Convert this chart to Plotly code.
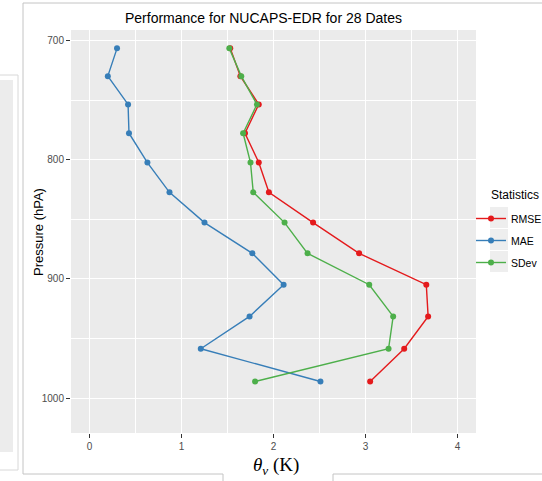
import plotly.graph_objects as go

# ---- data ----
PRESSURE = [706.6, 729.9, 753.6, 777.8, 802.4, 827.4, 852.8, 878.6, 904.9, 931.5, 958.6, 986.1]
RMSE = [1.53, 1.64, 1.84, 1.69, 1.84, 1.95, 2.43, 2.93, 3.66, 3.68, 3.42, 3.05]
MAE = [0.30, 0.20, 0.42, 0.43, 0.63, 0.87, 1.25, 1.77, 2.11, 1.74, 1.21, 2.51]
SDEV = [1.52, 1.65, 1.82, 1.67, 1.75, 1.78, 2.12, 2.37, 3.04, 3.30, 3.25, 1.80]
SERIES = ["RMSE", "MAE", "SDev"]
COLORS = ["#E41A1C", "#377EB8", "#4DAF4A"]
X_TICKS = [0, 1, 2, 3, 4]
Y_TICKS = [700, 800, 900, 1000]
TITLE = "Performance for NUCAPS-EDR for 28 Dates"
LEGEND_TITLE = "Statistics"

# ---- layout geometry (pixels) ----
WIDTH, HEIGHT = 542, 481
L, R, T, B = 71, 476, 30, 433
PW, PH = R - L, B - T


def px(xp):
    return (xp - L) / PW


def py(yp):
    return (B - yp) / PH


fig = go.Figure()
for name, vals, col, rank in zip(SERIES, [RMSE, MAE, SDEV], COLORS, [1, 2, 3]):
    fig.add_trace(go.Scatter(
        x=vals, y=PRESSURE, mode="lines+markers", name=name,
        line=dict(color=col, width=1.4),
        marker=dict(color=col, size=6),
        legendrank=rank, legendgroup=name,
    ))

shapes = []
frame = "#c4c4c4"
# surrounding screenshot clutter
shapes.append(dict(type="rect", xref="paper", yref="paper", x0=px(0), x1=px(13), y0=py(452), y1=py(80),
                   fillcolor="#ececec", line=dict(width=0), layer="below"))
shapes.append(dict(type="line", xref="paper", yref="paper", x0=px(18), x1=px(18), y0=py(470), y1=py(75),
                   line=dict(color="#d8d8d8", width=1)))
shapes.append(dict(type="line", xref="paper", yref="paper", x0=px(0), x1=px(18), y0=py(75), y1=py(75),
                   line=dict(color="#d8d8d8", width=1)))
shapes.append(dict(type="line", xref="paper", yref="paper", x0=px(0), x1=px(18), y0=py(470), y1=py(470),
                   line=dict(color="#d8d8d8", width=1)))
# frame of the figure
shapes.append(dict(type="line", xref="paper", yref="paper", x0=px(23), x1=px(23), y0=py(474), y1=py(3),
                   line=dict(color=frame, width=1)))
shapes.append(dict(type="line", xref="paper", yref="paper", x0=px(23), x1=px(542), y0=py(3), y1=py(3),
                   line=dict(color=frame, width=1)))
shapes.append(dict(type="line", xref="paper", yref="paper", x0=px(23), x1=px(223), y0=py(474), y1=py(474),
                   line=dict(color=frame, width=1)))
shapes.append(dict(type="line", xref="paper", yref="paper", x0=px(333), x1=px(542), y0=py(474), y1=py(474),
                   line=dict(color=frame, width=1)))
shapes.append(dict(type="line", xref="paper", yref="paper", x0=px(223), x1=px(223), y0=py(481), y1=py(474),
                   line=dict(color=frame, width=1)))
shapes.append(dict(type="line", xref="paper", yref="paper", x0=px(333), x1=px(333), y0=py(481), y1=py(474),
                   line=dict(color=frame, width=1)))
# legend key backgrounds
for i in range(3):
    shapes.append(dict(type="rect", xref="paper", yref="paper",
                       x0=px(490), x1=px(508), y0=py(207 + 22 * (i + 1) - 1), y1=py(207 + 22 * i),
                       fillcolor="#eeeeee", line=dict(width=0), layer="below"))

axis_common = dict(
    showgrid=True, gridcolor="white", gridwidth=1.1,
    zeroline=False, showline=False, automargin=False,
    ticks="outside", ticklen=4, tickcolor="#333333", tickwidth=1,
    tickfont=dict(family="Liberation Sans, Arial", size=10, color="#4d4d4d"),
)

fig.update_layout(
    width=WIDTH, height=HEIGHT,
    margin=dict(l=L, r=WIDTH - R, t=T, b=HEIGHT - B, pad=0, autoexpand=False),
    paper_bgcolor="white", plot_bgcolor="#EBEBEB",
    font=dict(family="Liberation Sans, Arial", color="black"),
    showlegend=True,
    legend=dict(
        font=dict(size=10.5, color="black"),
        x=px(471), xanchor="left", y=py(204), yanchor="top",
        bgcolor="rgba(0,0,0,0)", itemwidth=30, tracegroupgap=3,
    ),
    shapes=shapes,
    annotations=[
        dict(text=TITLE, xref="paper", yref="paper", x=px(263), y=py(17.5),
             xanchor="center", yanchor="middle", showarrow=False,
             font=dict(size=14, color="black", family="Liberation Sans, Arial")),
        dict(text="Pressure (hPA)", xref="paper", yref="paper", x=px(38), y=py(232),
             xanchor="center", yanchor="middle", showarrow=False, textangle=-90,
             font=dict(size=13, color="black", family="Liberation Sans, Arial")),
        dict(text="<i>θ</i><sub><i>v</i></sub> (K)", xref="paper", yref="paper", x=px(276), y=py(466),
             xanchor="center", yanchor="middle", showarrow=False,
             font=dict(size=19, color="black", family="Liberation Serif, DejaVu Serif")),
        dict(text=LEGEND_TITLE, xref="paper", yref="paper", x=px(489), y=py(195),
             xanchor="left", yanchor="middle", showarrow=False,
             font=dict(size=12, color="black", family="Liberation Sans, Arial")),
    ],
)
fig.update_xaxes(range=[-0.2, 4.2], tickvals=X_TICKS,
                 minor=dict(tickvals=[0.5, 1.5, 2.5, 3.5], showgrid=True, gridcolor="white", gridwidth=0.5, ticks=""),
                 **axis_common)
fig.update_yaxes(range=[1029.3, 691.2], tickvals=Y_TICKS,
                 minor=dict(tickvals=[750, 850, 950], showgrid=True, gridcolor="white", gridwidth=0.5, ticks=""),
                 **axis_common)

fig.write_html("out.html", config={"displayModeBar": False},
               post_script="document.body.style.margin='0px';document.body.style.overflow='hidden';")
